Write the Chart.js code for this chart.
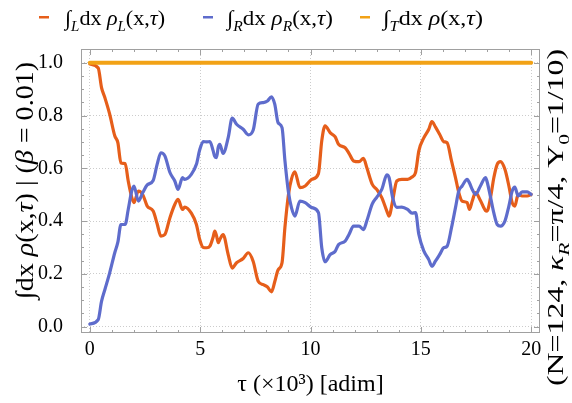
<!DOCTYPE html>
<html>
<head>
<meta charset="utf-8">
<script src="https://cdn.jsdelivr.net/npm/chart.js@4.4.0/dist/chart.umd.min.js"></script>
<style>
html,body{margin:0;padding:0;background:#fff;}
</style>
</head>
<body>
<canvas id="chart" width="572" height="403"></canvas>
<script>
// tau in units of 10^3
var tau = [0, 0.38, 0.53, 0.68, 0.9, 1.13, 1.27, 1.41, 1.6, 1.74, 1.9, 2.0, 2.2, 2.4, 2.6, 2.87, 3.05, 3.22, 3.4, 3.63,
  3.85, 4.0, 4.2, 4.3, 4.6, 4.83, 4.98, 5.14, 5.3, 5.44, 5.59, 5.66, 5.74, 5.82, 5.89, 6.04, 6.27, 6.45, 6.65, 6.95,
  7.18, 7.4, 7.63, 7.86, 8.05, 8.23, 8.38, 8.53, 8.71, 8.84, 9.0, 9.14, 9.29, 9.52, 9.76, 10.06, 10.36, 10.51, 10.66, 10.89,
  11.12, 11.27, 11.57, 11.75, 11.95, 12.2, 12.4, 12.55, 12.8, 13.0, 13.23, 13.46, 13.56, 13.72, 13.91, 14.14, 14.4, 14.6, 14.76, 14.91,
  15.14, 15.36, 15.5, 15.66, 15.85, 16.04, 16.19, 16.39, 16.57, 16.72, 16.87, 17.1, 17.2, 17.33, 17.48, 17.7, 17.93, 18.0, 18.16, 18.31,
  18.46, 18.61, 18.81, 18.99, 19.14, 19.26, 19.41, 19.59, 19.82, 20.0]
var rhoL = [0.995, 0.98, 0.906, 0.868, 0.805, 0.723, 0.697, 0.62, 0.618, 0.552, 0.49, 0.47, 0.514, 0.5, 0.457, 0.438, 0.39, 0.343, 0.349, 0.413,
  0.463, 0.482, 0.444, 0.453, 0.43, 0.387, 0.33, 0.3, 0.299, 0.305, 0.34, 0.362, 0.345, 0.318, 0.33, 0.349, 0.273, 0.222, 0.242, 0.258,
  0.28, 0.248, 0.172, 0.159, 0.15, 0.132, 0.17, 0.215, 0.242, 0.375, 0.5, 0.56, 0.587, 0.527, 0.533, 0.558, 0.58, 0.704, 0.761, 0.735,
  0.719, 0.691, 0.678, 0.656, 0.628, 0.625, 0.638, 0.603, 0.539, 0.52, 0.489, 0.438, 0.419, 0.476, 0.552, 0.558, 0.558, 0.567, 0.584, 0.666,
  0.716, 0.748, 0.777, 0.757, 0.729, 0.701, 0.697, 0.628, 0.565, 0.508, 0.476, 0.47, 0.444, 0.476, 0.508, 0.478, 0.44, 0.438, 0.49, 0.565,
  0.615, 0.625, 0.596, 0.533, 0.47, 0.457, 0.501, 0.495, 0.495, 0.501]
var rhoR = [0.01, 0.027, 0.096, 0.14, 0.204, 0.28, 0.32, 0.387, 0.387, 0.444, 0.514, 0.533, 0.476, 0.508, 0.537, 0.554, 0.615, 0.659, 0.647, 0.584,
  0.552, 0.52, 0.565, 0.558, 0.577, 0.615, 0.67, 0.701, 0.7, 0.701, 0.666, 0.645, 0.64, 0.68, 0.691, 0.656, 0.716, 0.79, 0.767, 0.748,
  0.727, 0.744, 0.843, 0.849, 0.855, 0.871, 0.843, 0.773, 0.754, 0.63, 0.51, 0.45, 0.419, 0.476, 0.47, 0.451, 0.432, 0.299, 0.246, 0.273,
  0.286, 0.311, 0.324, 0.35, 0.381, 0.381, 0.368, 0.4, 0.465, 0.49, 0.52, 0.575, 0.565, 0.49, 0.452, 0.453, 0.444, 0.43, 0.432, 0.349,
  0.286, 0.254, 0.229, 0.248, 0.273, 0.299, 0.305, 0.375, 0.451, 0.514, 0.533, 0.558, 0.545, 0.52, 0.501, 0.533, 0.565, 0.55, 0.49, 0.43,
  0.387, 0.381, 0.4, 0.457, 0.514, 0.529, 0.495, 0.511, 0.511, 0.501]
var tauT = [0, 20]
var rhoT = [1, 1]

var colL = 'rgb(230, 94, 26)'
var colR = 'rgb(94, 108, 204)'
var colT = 'rgb(242, 162, 22)'
var serif = '"Liberation Serif", "Times New Roman", serif'

function toPoints(xs, ys) {
  return xs.map(function (x, i) { return {x: x, y: ys[i]} })
}

// draws a list of [text, kind] pieces; kind: 'i' italic, 's' subscript
function drawRich(ctx, parts, x, y, size, measureOnly) {
  var cx = x
  parts.forEach(function (p) {
    var sub = p[1].indexOf('s') >= 0
    var it = p[1].indexOf('i') >= 0
    var fs = sub ? size * 0.68 : size
    ctx.font = (it ? 'italic ' : '') + fs + 'px ' + serif
    if (!measureOnly) ctx.fillText(p[0], cx, y + (sub ? size * 0.27 : 0))
    cx += ctx.measureText(p[0]).width
  })
  return cx - x
}

// same, squeezed/stretched along the text so it spans width w, starting at x
function drawRichFit(ctx, parts, x, y, size, w) {
  var nat = drawRich(ctx, parts, 0, 0, size, true)
  ctx.save()
  ctx.translate(x, y)
  ctx.scale(w / nat, 1)
  drawRich(ctx, parts, 0, 0, size)
  ctx.restore()
}

var legendItems = [
  {x: 39, tx: 65, w: 100, color: colL, parts: [['\u222B', ''], ['L', 'is'], ['dx ', ''], ['\u03C1', 'i'], ['L', 'is'], ['(x,', ''], ['\u03C4', 'i'], [')', '']]},
  {x: 203, tx: 227, w: 106, color: colR, parts: [['\u222B', ''], ['R', 'is'], ['dx ', ''], ['\u03C1', 'i'], ['R', 'is'], ['(x,', ''], ['\u03C4', 'i'], [')', '']]},
  {x: 360, tx: 383, w: 100, color: colT, parts: [['\u222B', ''], ['T', 'is'], ['dx ', ''], ['\u03C1', 'i'], ['(x,', ''], ['\u03C4', 'i'], [')', '']]}
]
var yTitle = [['\u222Bdx ', ''], ['\u03C1', 'i'], ['(x,', ''], ['\u03C4', 'i'], [') | (', ''], ['\u03B2', 'i'], [' = 0.01)', '']]
var sideNote = [['(N=124, ', ''], ['\u03BA', 'i'], ['R', 'is'], ['=\u03C0/4, ', ''], ['\u03A5', ''], ['0', 's'], ['=1/10)', '']]

var frame = {
  id: 'frame',
  beforeDatasetsDraw: function (chart) {
    var ctx = chart.ctx, a = chart.chartArea
    var xs = chart.scales.x, ys = chart.scales.y
    ctx.save()
    ctx.strokeStyle = '#a0a0a0'
    ctx.lineWidth = 1
    ctx.strokeRect(a.left + 0.5, a.top + 0.5, a.right - a.left - 1, a.bottom - a.top - 1)
    ctx.beginPath()
    for (var t = 0; t <= 20; t++) {
      var px = Math.round(xs.getPixelForValue(t)) + 0.5
      var len = t % 5 === 0 ? 6 : 3
      ctx.moveTo(px, a.bottom); ctx.lineTo(px, a.bottom - len)
      ctx.moveTo(px, a.top); ctx.lineTo(px, a.top + len)
    }
    for (var i = 0; i <= 20; i++) {
      var py = Math.round(ys.getPixelForValue(i * 0.05)) + 0.5
      var l2 = i % 4 === 0 ? 6 : 3
      ctx.moveTo(a.left, py); ctx.lineTo(a.left + l2, py)
      ctx.moveTo(a.right, py); ctx.lineTo(a.right - l2, py)
    }
    ctx.stroke()
    ctx.restore()
  },
  afterDraw: function (chart) {
    var ctx = chart.ctx
    ctx.save()
    ctx.textBaseline = 'alphabetic'
    ctx.textAlign = 'left'
    legendItems.forEach(function (it) {
      ctx.fillStyle = it.color
      ctx.fillRect(it.x, 16, 10, 2.5)
      ctx.fillStyle = '#000'
      drawRichFit(ctx, it.parts, it.tx, 25, 21, it.w)
    })
    // y title, reads bottom to top
    ctx.fillStyle = '#000'
    ctx.save()
    ctx.translate(33, 181)
    ctx.rotate(-Math.PI / 2)
    drawRichFit(ctx, yTitle, -118, 0, 25, 237)
    ctx.restore()
    // right side note
    ctx.save()
    ctx.translate(563, 218)
    ctx.rotate(-Math.PI / 2)
    drawRichFit(ctx, sideNote, -168, 0, 23, 337)
    ctx.restore()
    ctx.restore()
  }
}

var ctx = document.getElementById('chart').getContext('2d')
var myChart = new Chart(ctx, {
  type: 'line',
  data: {
    datasets: [
      {label: 'L', data: toPoints(tau, rhoL), borderColor: colL, borderWidth: 3.2, order: 3},
      {label: 'R', data: toPoints(tau, rhoR), borderColor: colR, borderWidth: 3.2, order: 2},
      {label: 'T', data: toPoints(tauT, rhoT), borderColor: colT, borderWidth: 4, order: 1}
    ]
  },
  options: {
    responsive: false,
    animation: false,
    elements: {
      point: {radius: 0},
      line: {cubicInterpolationMode: 'monotone', fill: false, borderCapStyle: 'round', borderJoinStyle: 'round'}
    },
    layout: {padding: {top: 49, right: 32, left: 0, bottom: 0}},
    scales: {
      x: {
        type: 'linear',
        min: -0.4,
        max: 20.4,
        afterFit: function (s) { s.height = 70 },
        ticks: {stepSize: 5, includeBounds: false, padding: 5, color: '#000', font: {family: serif, size: 20},
          callback: function (v) { return v }},
        grid: {drawTicks: false, color: '#cccccc', lineWidth: 1, borderDash: [1, 2]},
        border: {display: false, dash: [1, 2]},
        title: {display: true, text: '\u03C4 (\u00D710\u00B3) [adim]', color: '#000', font: {family: serif, size: 24},
          padding: {top: 0, bottom: 4}}
      },
      y: {
        min: -0.024,
        max: 1.052,
        afterFit: function (s) { s.width = 81 },
        ticks: {stepSize: 0.2, includeBounds: false, padding: 18, color: '#000', font: {family: serif, size: 20},
          callback: function (v) { return v.toFixed(1) }},
        grid: {drawTicks: false, color: '#cccccc', lineWidth: 1, borderDash: [1, 2]},
        border: {display: false, dash: [1, 2]}
      }
    },
    plugins: {
      legend: {display: false},
      tooltip: {enabled: false}
    }
  },
  plugins: [frame]
})
</script>
</body>
</html>
